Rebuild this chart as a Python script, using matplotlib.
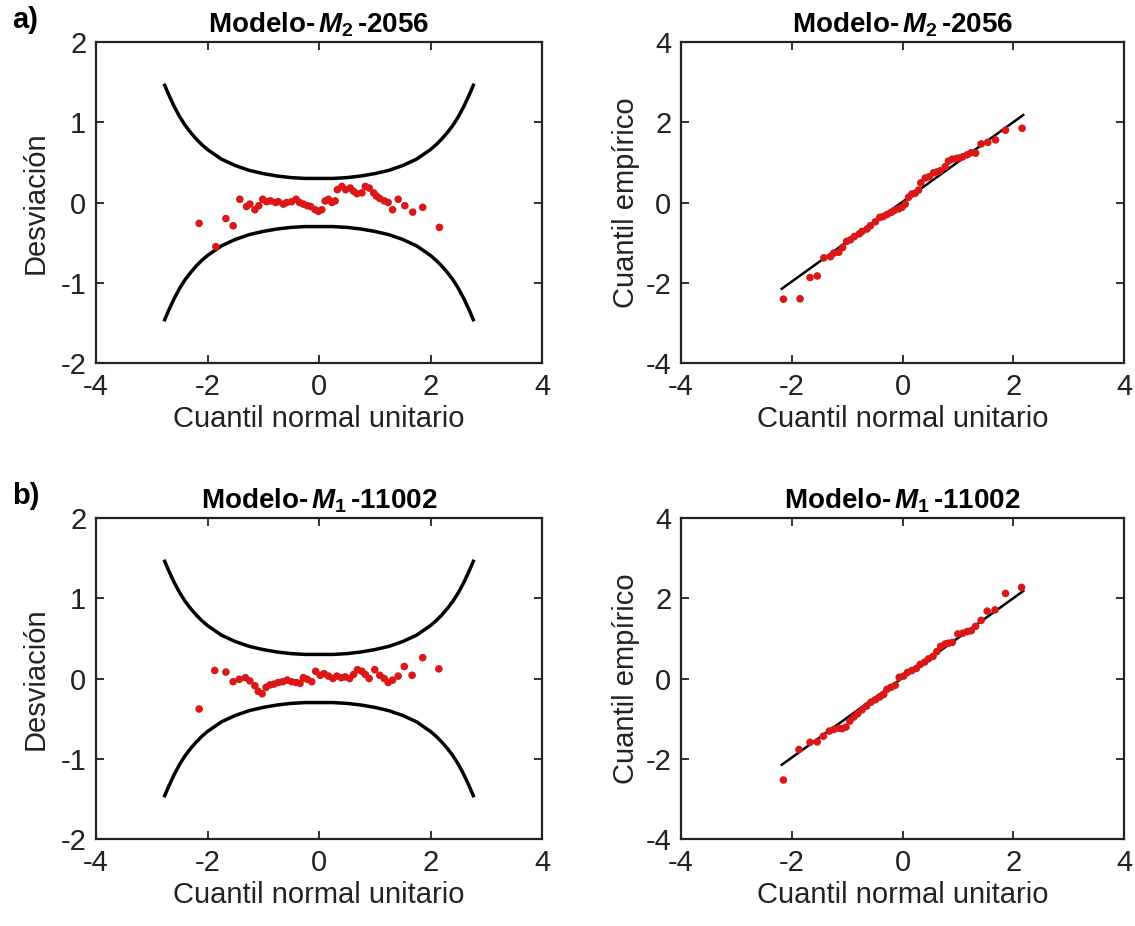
import matplotlib
matplotlib.use("Agg")
import matplotlib.pyplot as plt
import numpy as np

plt.rcParams['font.family'] = ['Liberation Sans', 'DejaVu Sans']
plt.rcParams['mathtext.fontset'] = 'custom'
plt.rcParams['mathtext.it'] = 'Liberation Sans:italic:bold'
plt.rcParams['mathtext.rm'] = 'Liberation Sans:bold'
plt.rcParams['mathtext.bf'] = 'Liberation Sans:bold'
plt.rcParams['axes.unicode_minus'] = False

# ---------------- data ----------------
titles = [r"Modelo-$\,\mathit{M}_{\mathit{2}}\,$-2056", r"Modelo-$\,\mathit{M}_{\mathit{1}}\,$-11002"]
panel_labels = ["a)", "b)"]

# Model M2-2056: theoretical normal quantile and deviation (worm plot)
m2_theo = [-2.15, -1.85, -1.67, -1.54, -1.42, -1.30, -1.24, -1.15, -1.08,
           -1.01, -0.94, -0.87, -0.78, -0.73, -0.64, -0.58, -0.49, -0.41,
           -0.35, -0.28, -0.21, -0.15, -0.07, -0.01, 0.05, 0.11, 0.17, 0.23,
           0.29, 0.33, 0.41, 0.48, 0.56, 0.62, 0.68, 0.77, 0.83, 0.90, 0.98,
           1.03, 1.09, 1.17, 1.24, 1.32, 1.42, 1.54, 1.68, 1.86, 2.16]
m2_dev = [-0.26, -0.55, -0.20, -0.29, 0.04, -0.05, -0.02, -0.09, -0.04,
          0.04, 0.01, 0.02, 0.00, 0.01, -0.02, 0.00, 0.01, 0.04,
          0.00, -0.02, -0.04, -0.05, -0.09, -0.11, -0.09, 0.02, 0.04, 0.00,
          0.02, 0.16, 0.20, 0.16, 0.18, 0.14, 0.11, 0.12, 0.20, 0.18, 0.12,
          0.08, 0.05, 0.02, 0.00, -0.09, 0.04, -0.04, -0.12, -0.06, -0.31]

# Model M1-11002
m1_theo = [-2.15, -1.87, -1.67, -1.54, -1.43, -1.32, -1.24, -1.15, -1.09,
           -1.02, -0.95, -0.88, -0.81, -0.73, -0.65, -0.57, -0.49, -0.41,
           -0.34, -0.28, -0.21, -0.13, -0.06, 0.02, 0.09, 0.17, 0.25, 0.32,
           0.40, 0.47, 0.55, 0.62, 0.69, 0.77, 0.83, 0.90, 1.00, 1.09, 1.17,
           1.24, 1.32, 1.42, 1.53, 1.67, 1.86, 2.15]
m1_dev = [-0.38, 0.10, 0.08, -0.04, -0.01, 0.01, -0.03, -0.09, -0.16,
          -0.19, -0.11, -0.08, -0.07, -0.05, -0.04, -0.02, -0.04, -0.05,
          -0.06, 0.01, -0.01, -0.04, 0.09, 0.04, 0.06, 0.03, 0.00, 0.03,
          0.01, 0.02, 0.00, 0.05, 0.11, 0.09, 0.05, 0.00, 0.11, 0.04, 0.00,
          -0.05, -0.02, 0.03, 0.15, 0.04, 0.26, 0.12]

# Confidence band (upper half; lower is its negative)
band_x = [-2.78, -2.70, -2.60, -2.50, -2.40, -2.30, -2.20, -2.10, -2.00, -1.75,
          -1.50, -1.25, -1.00, -0.75, -0.50, -0.25, 0.00, 0.25, 0.50, 0.75,
          1.00, 1.25, 1.50, 1.75, 2.00, 2.10, 2.20, 2.30, 2.40, 2.50, 2.60,
          2.70, 2.78]
band_up = [1.48, 1.35, 1.20, 1.07, 0.96, 0.87, 0.79, 0.72, 0.66, 0.54,
           0.46, 0.40, 0.36, 0.33, 0.31, 0.30, 0.30, 0.30, 0.31, 0.33,
           0.36, 0.40, 0.46, 0.54, 0.66, 0.72, 0.79, 0.87, 0.96, 1.07, 1.20,
           1.35, 1.48]

# Reference line of the Q-Q plot
qq_line_x = [-2.18, 2.18]
qq_line_y = [-2.15, 2.18]

worm_yticks = [-2, -1, 0, 1, 2]
qq_yticks = [-4, -2, 0, 2, 4]
xticks = [-4, -2, 0, 2, 4]

# ---------------- figure ----------------
W, H = 1135, 926
fig = plt.figure(figsize=(W / 100, H / 100), dpi=100)

def rect(x0, y0, x1, y1):
    return [x0 / W, 1 - y1 / H, (x1 - x0) / W, (y1 - y0) / H]

red = '#da1818'
spine_c = '#222222'
fs_tick = 21
fs_lab = 21
fs_title = 20

def style(ax, yticks):
    ax.set_xlim(-4, 4)
    ax.set_xticks(xticks)
    ax.set_ylim(yticks[0], yticks[-1])
    ax.set_yticks(yticks)
    ax.tick_params(direction='in', length=6, width=1.3, top=True, right=True,
                   labelsize=fs_tick, colors=spine_c, pad=7)
    for s in ax.spines.values():
        s.set_linewidth(1.6)
        s.set_color(spine_c)
    ax.set_xlabel("Cuantil normal unitario", fontsize=fs_lab, color=spine_c, labelpad=3)

rows = [(42, 363), (518, 839)]
datasets = [(m2_theo, m2_dev), (m1_theo, m1_dev)]

for i, ((y0, y1), (theo, dev)) in enumerate(zip(rows, datasets)):
    # worm plot
    ax = fig.add_axes(rect(96, y0, 542, y1))
    ax.plot(band_x, band_up, color='black', lw=2.5, solid_capstyle='butt')
    ax.plot(band_x, [-v for v in band_up], color='black', lw=2.5, solid_capstyle='butt')
    ax.scatter(theo, dev, s=30, color=red, edgecolors='none', zorder=3)
    style(ax, worm_yticks)
    ax.set_ylabel("Desviación", fontsize=fs_lab, color=spine_c, labelpad=8)
    ax.set_title(titles[i], fontsize=fs_title, fontweight='bold', pad=7)
    fig.text(12 / W, 1 - (y0 - 22) / H, panel_labels[i], fontsize=21,
             fontweight='bold', va='center', ha='left')

    # Q-Q plot
    ax2 = fig.add_axes(rect(681, y0, 1124, y1))
    emp = [t + d for t, d in zip(theo, dev)]
    ax2.plot(qq_line_x, qq_line_y, color='black', lw=1.8, zorder=2)
    ax2.scatter(theo, emp, s=30, color=red, edgecolors='none', zorder=3)
    style(ax2, qq_yticks)
    ax2.set_ylabel("Cuantil empírico", fontsize=fs_lab, color=spine_c, labelpad=4)
    ax2.set_title(titles[i], fontsize=fs_title, fontweight='bold', pad=7)

fig.savefig("out.png", dpi=100, facecolor='white')
